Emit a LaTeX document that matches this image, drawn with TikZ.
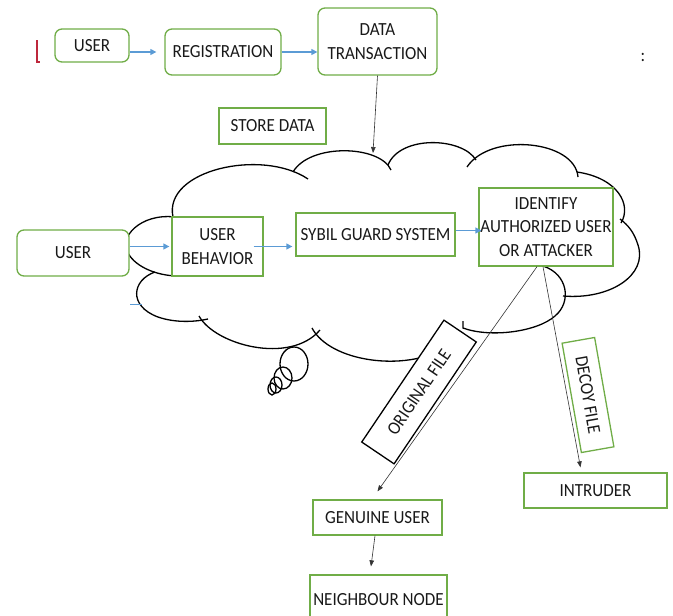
\documentclass[tikz,border=0pt]{standalone}
\usepackage{fontspec}
\setmainfont{Carlito}[FakeStretch=0.92]
\usetikzlibrary{arrows.meta}
\definecolor{boxgreen}{RGB}{112,173,71}
\definecolor{flowblue}{RGB}{91,155,213}
\definecolor{markred}{RGB}{190,40,60}

\begin{document}
\begin{tikzpicture}[x=1pt, y=-1pt,
    font=\fontsize{18.5}{23.5}\selectfont, text=black!90,
    roundbox/.style={draw=boxgreen, line width=1.3pt, rounded corners=7pt, fill=white, align=center, inner sep=0pt},
    sharpbox/.style={draw=boxgreen, line width=1.3pt, fill=white, align=center, inner sep=0pt},
    filebox/.style={draw=black, line width=1.3pt, fill=white, align=center, inner sep=0pt},
    flow/.style={flowblue, line width=1.3pt, -{Triangle[length=6pt,width=6pt]}},
    link/.style={black!80, line width=0.6pt, -{Triangle[length=6pt,width=4.5pt]}},
    cloudline/.style={black, line width=1.3pt}]
    \useasboundingbox (0,0) rectangle (673,616);

    % Cloud
    \draw[cloudline] (175,217) .. controls (140,213) and (118,238) .. (128,253) .. controls (136,268) and (160,277) .. (183,276);
    \draw[cloudline] (155,272) .. controls (132,280) and (128,306) .. (158,317) .. controls (175,323) and (195,322) .. (208,319);
    \draw[cloudline] (199,316) .. controls (215,345) and (290,365) .. (320,330);
    \draw[cloudline] (312,328) .. controls (330,362) and (405,372) .. (445,348);
    \draw[cloudline] (543,266) .. controls (568,274) and (572,302) .. (555,316) .. controls (537,332) and (490,338) .. (463,328) -- ++(0,-7);
    \draw[cloudline] (563,296) .. controls (610,300) and (648,275) .. (638,245) .. controls (634,232) and (628,225) .. (620,219);
    \draw[cloudline] (621,223) .. controls (632,205) and (618,178) .. (577,172);
    \draw[cloudline] (578,177) .. controls (575,140) and (490,132) .. (467,167);
    \draw[cloudline] (476,160) .. controls (462,137) and (400,135) .. (388,165);
    \draw[cloudline] (391,170) .. controls (380,145) and (310,143) .. (293,172);
    \draw[cloudline] (173,217) .. controls (163,170) and (262,148) .. (308,179);

    % Thought bubbles
    \draw[cloudline] (294,364) ellipse [x radius=14pt, y radius=17pt];
    \draw[cloudline] (283,378) ellipse [x radius=9pt, y radius=11pt];
    \draw[cloudline] (276,385) ellipse [x radius=6pt, y radius=8pt];
    \draw[cloudline] (272,389) ellipse [x radius=4pt, y radius=6pt];

    % Boxes
    \node[roundbox, minimum width=74pt, minimum height=33pt] (user) at (92,45.5) {USER};
    \node[roundbox, minimum width=116pt, minimum height=46pt] (reg) at (223,52) {REGISTRATION};
    \node[roundbox, minimum width=119pt, minimum height=67pt] (data) at (377.5,41.5) {DATA\\TRANSACTION};
    \node[sharpbox, minimum width=107pt, minimum height=36pt] (store) at (272.5,126) {STORE DATA};
    \node[roundbox, minimum width=112pt, minimum height=46pt] (user2) at (73,253) {USER};
    \node[sharpbox, minimum width=91pt, minimum height=59pt] (behav) at (217.5,246.5) {USER\\BEHAVIOR};
    \node[sharpbox, minimum width=159pt, minimum height=43pt] (sybil) at (375.5,234.5) {SYBIL GUARD SYSTEM};
    \node[sharpbox, minimum width=134pt, minimum height=78pt] (ident) at (546,227) {IDENTIFY\\AUTHORIZED USER\\OR ATTACKER};
    \node[sharpbox, minimum width=129pt, minimum height=35pt] (genuine) at (377.5,517.5) {GENUINE USER};
    \node[sharpbox, minimum width=143pt, minimum height=35pt] (intruder) at (595.5,490.5) {INTRUDER};
    \node[sharpbox, minimum width=137pt, minimum height=50pt] (neigh) at (378.5,600) {NEIGHBOUR NODE};

    % Connectors
    \draw[link] ([xshift=-9pt]ident.south) -- ([yshift=8pt]genuine.north);
    \draw[link] ([xshift=-3pt]ident.south) -- ([xshift=-15pt,yshift=5pt]intruder.north);
    \node[filebox, rotate=56, minimum width=147pt, minimum height=39pt] (orig) at (419,392) {ORIGINAL FILE};
    \node[sharpbox, rotate=-80, minimum width=111pt, minimum height=33pt] (decoy) at (588,395) {DECOY FILE};

    \coordinate (cloudtop) at (373,153);
    \draw[link] (data.south) -- (cloudtop);
    \draw[link] ([xshift=-2.5pt]genuine.south) -- ([xshift=-7.5pt,yshift=8pt]neigh.north);

    \draw[flow] (user.east |- reg.west) -- ([xshift=-8pt]reg.west);
    \draw[flow] (reg.east) -- (data.west |- reg.east);
    \draw[flow] (user2.east |- behav.west) -- ([xshift=-2pt]behav.west);
    \draw[flow] ([xshift=-10pt]behav.east) -- ([xshift=-3pt]sybil.west |- behav.east);
    \draw[flow] ([yshift=4pt]sybil.east) -- ([xshift=3pt,yshift=-3.5pt]ident.west);

    % Marks
    \draw[markred, line width=1.5pt] (37,40) -- (37,62) -- (39.5,62);
    \draw[flowblue, line width=1pt] (130,304) -- (142,304);
    \node (colon) at (643,57) {:};
\end{tikzpicture}
\end{document}
